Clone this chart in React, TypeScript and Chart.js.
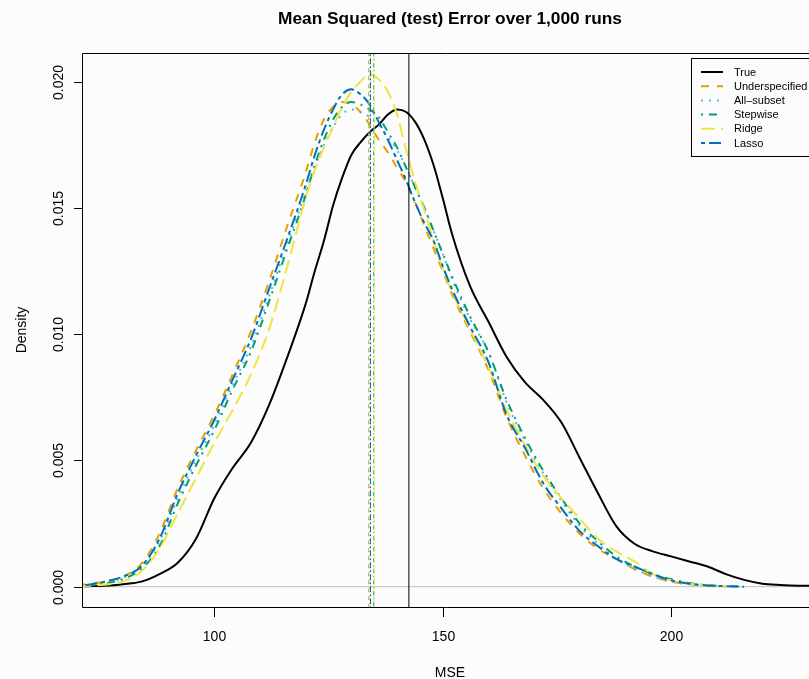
import React, { useEffect, useRef } from "react";
import { Chart, registerables } from "chart.js";

Chart.register(...registerables);

// ---- data ----
const mseGrid = [70, 72, 76, 80, 84, 88, 92, 96, 100, 104, 108, 112, 116, 120, 122, 124, 126, 128, 130, 132, 134, 136, 138, 140, 142, 144, 146, 148, 150, 152, 156, 160, 164, 168, 172, 176, 180, 184, 188, 192, 196, 200, 204, 208, 212, 216, 220, 224, 228, 232];

const trueDensity = [0.00001, 0.00002, 0.00004, 0.0001, 0.0002, 0.0005, 0.00095, 0.0019, 0.0035, 0.0047, 0.0057, 0.0072, 0.0091, 0.0112, 0.0125, 0.0137, 0.0151, 0.0162, 0.0171, 0.0176, 0.018, 0.0183, 0.0187, 0.0189, 0.0188, 0.0184, 0.0177, 0.0167, 0.0154, 0.014, 0.0119, 0.0105, 0.0091, 0.0081, 0.0074, 0.0065, 0.0051, 0.0037, 0.0024, 0.0017, 0.0014, 0.0012, 0.001, 0.0008, 0.0005, 0.00027, 0.00012, 0.00007, 0.00004, 0.00003];

const underDensity = [0.00006, 0.0001, 0.0002, 0.0004, 0.0009, 0.0021, 0.0039, 0.0054, 0.0068, 0.0084, 0.0101, 0.0121, 0.0143, 0.0164, 0.0176, 0.0185, 0.019, 0.0192, 0.0191, 0.0188, 0.0183, 0.0177, 0.0172, 0.0166, 0.016, 0.0152, 0.0143, 0.0134, 0.0125, 0.0116, 0.0101, 0.0086, 0.0067, 0.0052, 0.0039, 0.0029, 0.0021, 0.0015, 0.0011, 0.0007, 0.0004, 0.0002, 0.0001, 0.00004, 0.00001, null, null, null, null, null];

const allSubsetDensity = [0.00004, 0.00006, 0.00014, 0.00035, 0.0008, 0.0018, 0.0035, 0.005, 0.0064, 0.008, 0.0095, 0.0115, 0.0136, 0.0156, 0.0166, 0.0175, 0.0182, 0.0187, 0.0189, 0.0188, 0.0186, 0.0183, 0.0178, 0.0173, 0.0166, 0.0158, 0.015, 0.0141, 0.0132, 0.0122, 0.0106, 0.0093, 0.0073, 0.0058, 0.0045, 0.0034, 0.0024, 0.0017, 0.0011, 0.0007, 0.0004, 0.0002, 0.0001, 0.00005, 0.00002, null, null, null, null, null];

const stepwiseDensity = [0.00003, 0.00005, 0.00012, 0.0003, 0.0007, 0.0016, 0.0033, 0.0048, 0.0062, 0.0078, 0.0093, 0.0113, 0.0134, 0.0155, 0.0167, 0.0177, 0.0185, 0.019, 0.0192, 0.0191, 0.0189, 0.0186, 0.018, 0.0174, 0.0166, 0.0158, 0.015, 0.0141, 0.0132, 0.0123, 0.0107, 0.0093, 0.0074, 0.0059, 0.0046, 0.0035, 0.0025, 0.0018, 0.0012, 0.0008, 0.0005, 0.0003, 0.00015, 0.00006, 0.00002, 0.0, null, null, null, null];

const ridgeDensity = [0.00002, 0.00003, 0.00008, 0.0002, 0.0006, 0.0015, 0.0029, 0.0043, 0.0057, 0.007, 0.0084, 0.0102, 0.0127, 0.0154, 0.0165, 0.0174, 0.0182, 0.019, 0.0196, 0.02, 0.0203, 0.0201, 0.0196, 0.0187, 0.0173, 0.016, 0.0149, 0.0137, 0.0126, 0.0117, 0.0102, 0.0087, 0.007, 0.0056, 0.0044, 0.0035, 0.0027, 0.0019, 0.0014, 0.001, 0.0005, 0.00025, 0.00012, 0.00005, 0.00002, null, null, null, null, null];

const lassoDensity = [0.00005, 0.00007, 0.0002, 0.0004, 0.0008, 0.0019, 0.0037, 0.0052, 0.0066, 0.0082, 0.0098, 0.0118, 0.0138, 0.0159, 0.0171, 0.0181, 0.0189, 0.0195, 0.0197, 0.0195, 0.0191, 0.0184, 0.0177, 0.0169, 0.0161, 0.0152, 0.0144, 0.0137, 0.0127, 0.0118, 0.0103, 0.0089, 0.0068, 0.0055, 0.0041, 0.0031, 0.0022, 0.0016, 0.0011, 0.0008, 0.0005, 0.00025, 0.00012, 0.00005, 0.00002, 0.0, null, null, null, null];

const seriesNames = ["True", "Underspecified", "All\u2013subset", "Stepwise", "Ridge", "Lasso"];
const seriesValues = [trueDensity, underDensity, allSubsetDensity, stepwiseDensity, ridgeDensity, lassoDensity];
const meanMSE = [142.6, 133.8, 134.0, 134.9, 135.0, 134.2];

const xTicks = [100, 150, 200];
const yTicks = [0, 0.005, 0.01, 0.015, 0.02];
const yTickLabels = ["0.000", "0.005", "0.010", "0.015", "0.020"];

const titleText = "Mean Squared (test) Error over 1,000 runs";
const xTitle = "MSE";
const yTitle = "Density";

// ---- styles ----
const colors = ["#000000", "#E69F00", "#56B4E9", "#009E73", "#F0E442", "#0072B2"];
const dashThick = [[], [8, 8], [2, 6], [2, 6, 8, 6], [14, 6], [4, 4, 12, 4]];
const dashThin = [[], [4, 4], [1, 3], [1, 3, 4, 3], [7, 3], [2, 2, 6, 2]];
const BG = "#fcfcfc";
const FONT = "'Liberation Sans', Arial, Helvetica, sans-serif";

const X_MIN = 71.25;
const X_MAX = 230.2;
const Y_MIN = -0.000804;
const Y_MAX = 0.021137;

const rPlotPlugin = {
  id: "rPlot",
  beforeDraw(chart: any) {
    const ctx = chart.ctx;
    ctx.save();
    ctx.fillStyle = BG;
    ctx.fillRect(0, 0, chart.width, chart.height);
    ctx.restore();
  },
  afterDraw(chart: any) {
    const ctx = chart.ctx;
    const a = chart.chartArea;
    const xs = chart.scales.x;
    const ys = chart.scales.y;
    ctx.save();
    ctx.strokeStyle = "#000";
    ctx.lineWidth = 1;
    ctx.setLineDash([]);
    // box (right side off screen)
    ctx.beginPath();
    ctx.moveTo(chart.width + 5, a.top + 0.5);
    ctx.lineTo(a.left - 0.5, a.top + 0.5);
    ctx.lineTo(a.left - 0.5, a.bottom + 0.5);
    ctx.lineTo(chart.width + 5, a.bottom + 0.5);
    ctx.stroke();

    ctx.fillStyle = "#000";
    ctx.font = `14px ${FONT}`;
    // x ticks
    ctx.textAlign = "center";
    ctx.textBaseline = "alphabetic";
    xTicks.forEach((v) => {
      const px = Math.round(xs.getPixelForValue(v)) + 0.5;
      ctx.beginPath();
      ctx.moveTo(px, a.bottom);
      ctx.lineTo(px, a.bottom + 10);
      ctx.stroke();
      ctx.fillText(String(v), px, 641);
    });
    // y ticks
    yTicks.forEach((v, i) => {
      const py = Math.round(ys.getPixelForValue(v)) + 0.5;
      ctx.beginPath();
      ctx.moveTo(a.left, py);
      ctx.lineTo(a.left - 9, py);
      ctx.stroke();
      ctx.save();
      ctx.translate(63, py);
      ctx.rotate(-Math.PI / 2);
      ctx.textAlign = "center";
      ctx.textBaseline = "alphabetic";
      ctx.fillText(yTickLabels[i], 0, 0);
      ctx.restore();
    });
    // axis titles
    ctx.textAlign = "center";
    ctx.fillText(xTitle, 450, 677);
    ctx.save();
    ctx.translate(26, (a.top + a.bottom) / 2);
    ctx.rotate(-Math.PI / 2);
    ctx.fillText(yTitle, 0, 0);
    ctx.restore();
    // title
    ctx.font = `bold 17.3px ${FONT}`;
    ctx.fillText(titleText, 450, 24);

    // legend
    const lx = 691.5;
    const ly = 58.5;
    const rowH = 14.2;
    const lh = 98;
    ctx.fillStyle = BG;
    ctx.fillRect(lx, ly, 200, lh);
    ctx.strokeStyle = "#000";
    ctx.lineWidth = 1;
    ctx.strokeRect(lx, ly, 200, lh);
    ctx.font = `11px ${FONT}`;
    ctx.textAlign = "left";
    ctx.textBaseline = "middle";
    seriesNames.forEach((name, i) => {
      const ry = 72 + i * rowH;
      ctx.strokeStyle = colors[i];
      ctx.lineWidth = 2;
      ctx.setLineDash(dashThick[i]);
      ctx.beginPath();
      ctx.moveTo(701, ry);
      ctx.lineTo(723, ry);
      ctx.stroke();
      ctx.setLineDash([]);
      ctx.fillStyle = "#000";
      ctx.fillText(name, 734, ry + 0.5);
    });
    ctx.restore();
  },
};

export default function App() {
  const canvasRef = useRef<HTMLCanvasElement | null>(null);

  useEffect(() => {
    if (!canvasRef.current) return;
    const n = seriesValues.length;
    const curveSets = seriesValues.map((vals, i) => ({
      label: seriesNames[i],
      data: mseGrid
        .map((x, j) => ({ x, y: vals[j] }))
        .filter((p) => p.y !== null && p.y !== undefined),
      borderColor: colors[i],
      borderWidth: 2,
      borderDash: dashThick[i],
      borderCapStyle: "butt",
      borderJoinStyle: "round",
      pointRadius: 0,
      fill: false,
      cubicInterpolationMode: "monotone",
      order: 20 + (n - i),
    }));
    const meanSets = meanMSE.map((m, i) => ({
      label: seriesNames[i] + " mean",
      data: [
        { x: m, y: Y_MIN - 0.001 },
        { x: m, y: Y_MAX + 0.001 },
      ],
      borderColor: colors[i],
      borderWidth: 1,
      borderDash: dashThin[i],
      pointRadius: 0,
      fill: false,
      tension: 0,
      clip: 0,
      order: n - i,
    }));
    const zeroSet = {
      label: "zero",
      data: [
        { x: X_MIN - 5, y: 0 },
        { x: X_MAX + 5, y: 0 },
      ],
      borderColor: "#bebebe",
      borderWidth: 1,
      pointRadius: 0,
      fill: false,
      clip: 0,
      order: 100,
    };

    const chart = new Chart(canvasRef.current, {
      type: "line",
      data: { datasets: [zeroSet, ...curveSets, ...meanSets] as any },
      options: {
        animation: false,
        responsive: false,
        devicePixelRatio: 1,
        layout: { padding: { left: 83, top: 53, right: 0, bottom: 72 } },
        plugins: {
          legend: { display: false },
          tooltip: { enabled: false },
          title: { display: false },
        },
        events: [],
        scales: {
          x: { type: "linear", display: false, min: X_MIN, max: X_MAX },
          y: { type: "linear", display: false, min: Y_MIN, max: Y_MAX },
        },
      },
      plugins: [rPlotPlugin],
    });
    return () => chart.destroy();
  }, []);

  return (
    <div style={{ position: "fixed", left: 0, top: 0, width: 809, height: 679, overflow: "hidden", background: BG }}>
      <canvas ref={canvasRef} width={809} height={679} style={{ display: "block", width: 809, height: 679 }} />
    </div>
  );
}
